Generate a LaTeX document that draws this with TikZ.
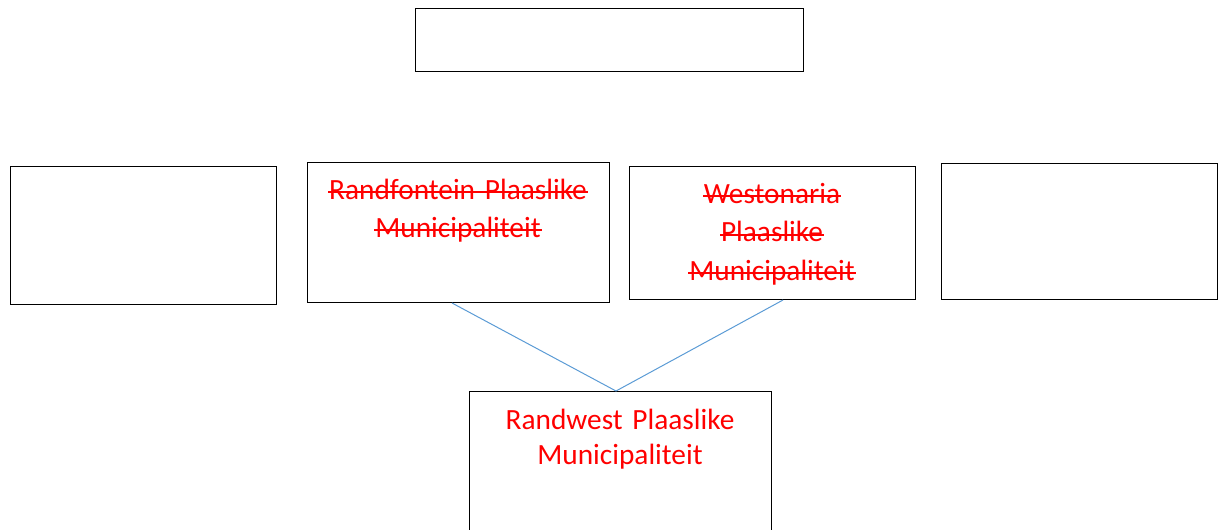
\documentclass[tikz,border=0pt]{standalone}
\usepackage{fontspec}
\setmainfont{Carlito}
\newcommand{\mystrike}[1]{\leavevmode{\setbox0\hbox{#1}\rlap{\hspace{-0.7pt}\rule[0.2em]{\dimexpr\wd0+1.4pt\relax}{1.4pt}}\box0}}
\definecolor{connblue}{HTML}{5B9BD5}
\definecolor{txtred}{HTML}{FF0000}
\tikzset{
  box/.style={draw=black, line width=1pt, rectangle, inner sep=0pt},
  lbl/.style={text=txtred, anchor=base, align=center, inner sep=0pt, text width=300pt},
  conn/.style={draw=connblue, line width=0.75pt}
}
\begin{document}
\begin{tikzpicture}[x=0.75pt,y=-0.75pt]
\useasboundingbox (0,0) rectangle (1219,529);
\clip (0,0) rectangle (1219,529);
% boxes
\node[box, minimum width=291pt, minimum height=47.25pt, anchor=north west] (top) at (415,8) {};
\node[box, minimum width=199.5pt, minimum height=103.5pt, anchor=north west] (left) at (10,166) {};
\node[box, minimum width=226.5pt, minimum height=105pt, anchor=north west] (rf) at (307,162) {};
\node[box, minimum width=214.5pt, minimum height=99.75pt, anchor=north west] (wn) at (629,166) {};
\node[box, minimum width=207pt, minimum height=102pt, anchor=north west] (right) at (941,163) {};
\node[box, minimum width=226.5pt, minimum height=150pt, anchor=north west] (rw) at (469,391) {};
% texts
\node[lbl, font={\fontsize{22}{28.5}\selectfont}] (rftxt) at (458,199) {\mystrike{Randfontein Plaaslike}\\\mystrike{Municipaliteit}};
\node[lbl, font={\fontsize{22}{28.9}\selectfont}] (wntxt) at (772,203) {\mystrike{Westonaria}\\\mystrike{Plaaslike}\\\mystrike{Municipaliteit}};
\node[lbl, font={\fontsize{22}{26.25}\selectfont}] (rwtxt) at (620,429) {Randwest Plaaslike\\Municipaliteit};
% connectors
\coordinate (c1) at (452,303);
\coordinate (c2) at (783,300);
\coordinate (j) at (616,391);
\draw[conn] (c1) -- (j) -- (c2);
\end{tikzpicture}
\end{document}
